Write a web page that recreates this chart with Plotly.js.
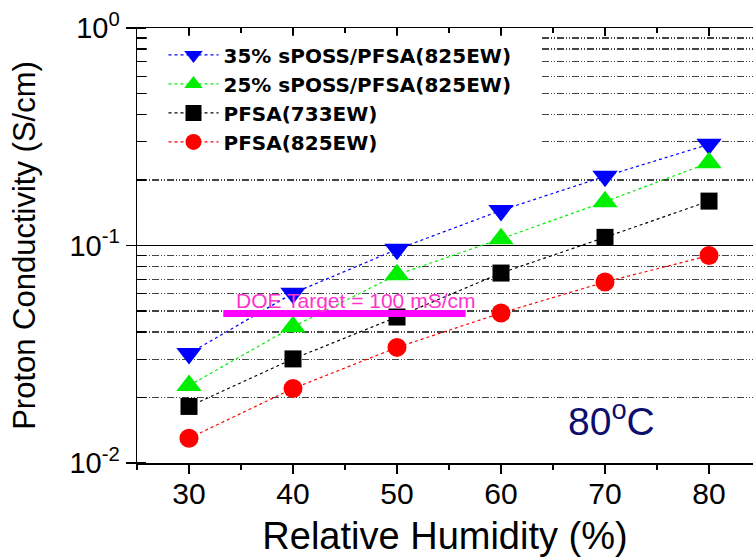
<!DOCTYPE html>
<html>
<head>
<meta charset="utf-8">
<script src="https://cdn.plot.ly/plotly-3.0.1.min.js"></script>
<style>
  html, body { margin: 0; padding: 0; background: #ffffff; }
  #chart { width: 753px; height: 558px; }
</style>
</head>
<body>
<div id="chart"></div>
<script>
// ---- data ----
const humidity = [30, 40, 50, 60, 70, 80];
const sposs35 = [0.0319, 0.0603, 0.0960, 0.145, 0.208, 0.292];
const sposs25 = [0.0227, 0.0423, 0.0734, 0.1074, 0.159, 0.240];
const pfsa733 = [0.0182, 0.0301, 0.0469, 0.0747, 0.109, 0.160];
const pfsa825 = [0.0130, 0.0220, 0.0340, 0.0489, 0.0679, 0.0899];
const seriesNames = ['35% sPOSS/PFSA(825EW)', '25% sPOSS/PFSA(825EW)', 'PFSA(733EW)', 'PFSA(825EW)'];
const targetX = [33.3, 56.6];
const targetY = [0.0487, 0.0487];
const targetLabel = 'DOE Target = 100 mS/cm';
const tempLabel = '80<sup>o</sup>C';
const yTickVals = [0.01, 0.1, 1];
const yTickText = ['10<sup>-2</sup>', '10<sup>-1</sup>', '10<sup>0</sup>'];
const xTickVals = [30, 40, 50, 60, 70, 80];

const FONT = 'Liberation Sans, Arial, sans-serif';
const LEGFONT = 'DejaVu Sans, Liberation Sans, Arial, sans-serif';

function series(name, y, color, symbol, size) {
  return {
    type: 'scatter', mode: 'lines+markers', name: name,
    x: humidity, y: y,
    line: { color: color, width: 1.2, dash: 'dot' },
    marker: { color: color, symbol: symbol, size: size, line: { width: 0 } },
    cliponaxis: false
  };
}

const traces = [
  series(seriesNames[0], sposs35, '#0000ff', 'triangle-down', 22),
  series(seriesNames[1], sposs25, '#00ee00', 'triangle-up', 22),
  series(seriesNames[2], pfsa733, '#000000', 'square', 17),
  series(seriesNames[3], pfsa825, '#ff0000', 'circle', 19),
  {
    type: 'scatter', mode: 'lines', x: targetX, y: targetY, xaxis: 'x2', yaxis: 'y',
    line: { color: '#ff00ff', width: 7 }, showlegend: false, hoverinfo: 'skip'
  }
];

const xr = [25, 84.23];
const layout = {
  width: 753, height: 558,
  margin: { l: 137, r: 0, t: 28, b: 95 },
  paper_bgcolor: '#ffffff', plot_bgcolor: '#ffffff',
  font: { family: FONT, color: '#000000' },
  showlegend: true,
  legend: {
    x: 0.043, y: 0.983, xanchor: 'left', yanchor: 'top',
    bgcolor: 'rgba(0,0,0,0)', borderwidth: 0,
    font: { family: LEGFONT, size: 20, color: '#000000', weight: 'bold' },
    itemwidth: 50, tracegroupgap: 0
  },
  xaxis: {
    range: xr, autorange: false,
    tickvals: xTickVals, ticks: 'outside', ticklen: 9, tickwidth: 1.3, tickcolor: '#000',
    tickfont: { family: FONT, size: 30, color: '#000' },
    ticklabelstandoff: -6,
    showline: true, linecolor: '#000', linewidth: 1.5,
    showgrid: false, zeroline: false,
    minor: { dtick: 5, tick0: 25, ticks: 'outside', ticklen: 5, tickwidth: 1.3, tickcolor: '#000', showgrid: false },
    title: { text: 'Relative Humidity (%)', font: { family: FONT, size: 38, color: '#000' }, standoff: 14 }
  },
  xaxis2: {
    overlaying: 'x', side: 'top', anchor: 'y',
    range: xr, autorange: false,
    tickvals: xTickVals, ticks: 'inside', ticklen: 8, tickwidth: 1.3, tickcolor: '#000',
    showticklabels: false,
    showline: true, linecolor: '#000', linewidth: 1.5,
    showgrid: false, zeroline: false,
    minor: { dtick: 5, tick0: 25, ticks: 'inside', ticklen: 5, tickwidth: 1.3, tickcolor: '#000', showgrid: false }
  },
  yaxis: {
    type: 'log', range: [-2, 0], autorange: false,
    tickvals: yTickVals, ticktext: yTickText,
    ticks: 'outside', ticklen: 10, tickwidth: 1.3, tickcolor: '#000',
    tickfont: { family: FONT, size: 29, color: '#000' },
    showline: true, linecolor: '#000', linewidth: 1.5,
    showgrid: true, gridcolor: '#000', gridwidth: 1.3,
    zeroline: false,
    minor: {
      dtick: 'D1', ticks: 'inside', ticklen: 9, tickwidth: 1.2, tickcolor: '#000',
      showgrid: true, gridcolor: '#444', gridwidth: 1.3, griddash: '7px,2px,1px,2px,1px,2px'
    },
    title: { text: 'Proton Conductivity (S/cm)', font: { family: FONT, size: 31, color: '#000' }, standoff: 24 }
  },
  shapes: [
    { type: 'rect', xref: 'paper', yref: 'paper', x0: 0.018, x1: 0.657, y0: 0.685, y1: 0.982,
      fillcolor: '#ffffff', line: { width: 0 }, layer: 'above' }
  ],
  annotations: [
    { xref: 'paper', yref: 'paper', x: 0.354, y: 0.3747, text: targetLabel, showarrow: false,
      xanchor: 'center', yanchor: 'middle', font: { family: FONT, size: 21, color: '#ff33cc' } },
    { xref: 'paper', yref: 'paper', x: 0.771, y: 0.1034, text: tempLabel, showarrow: false,
      xanchor: 'center', yanchor: 'middle', font: { family: FONT, size: 39, color: '#0d0d6e' } }
  ]
};

Plotly.newPlot('chart', traces, layout, { displayModeBar: false, staticPlot: true });
</script>
</body>
</html>
